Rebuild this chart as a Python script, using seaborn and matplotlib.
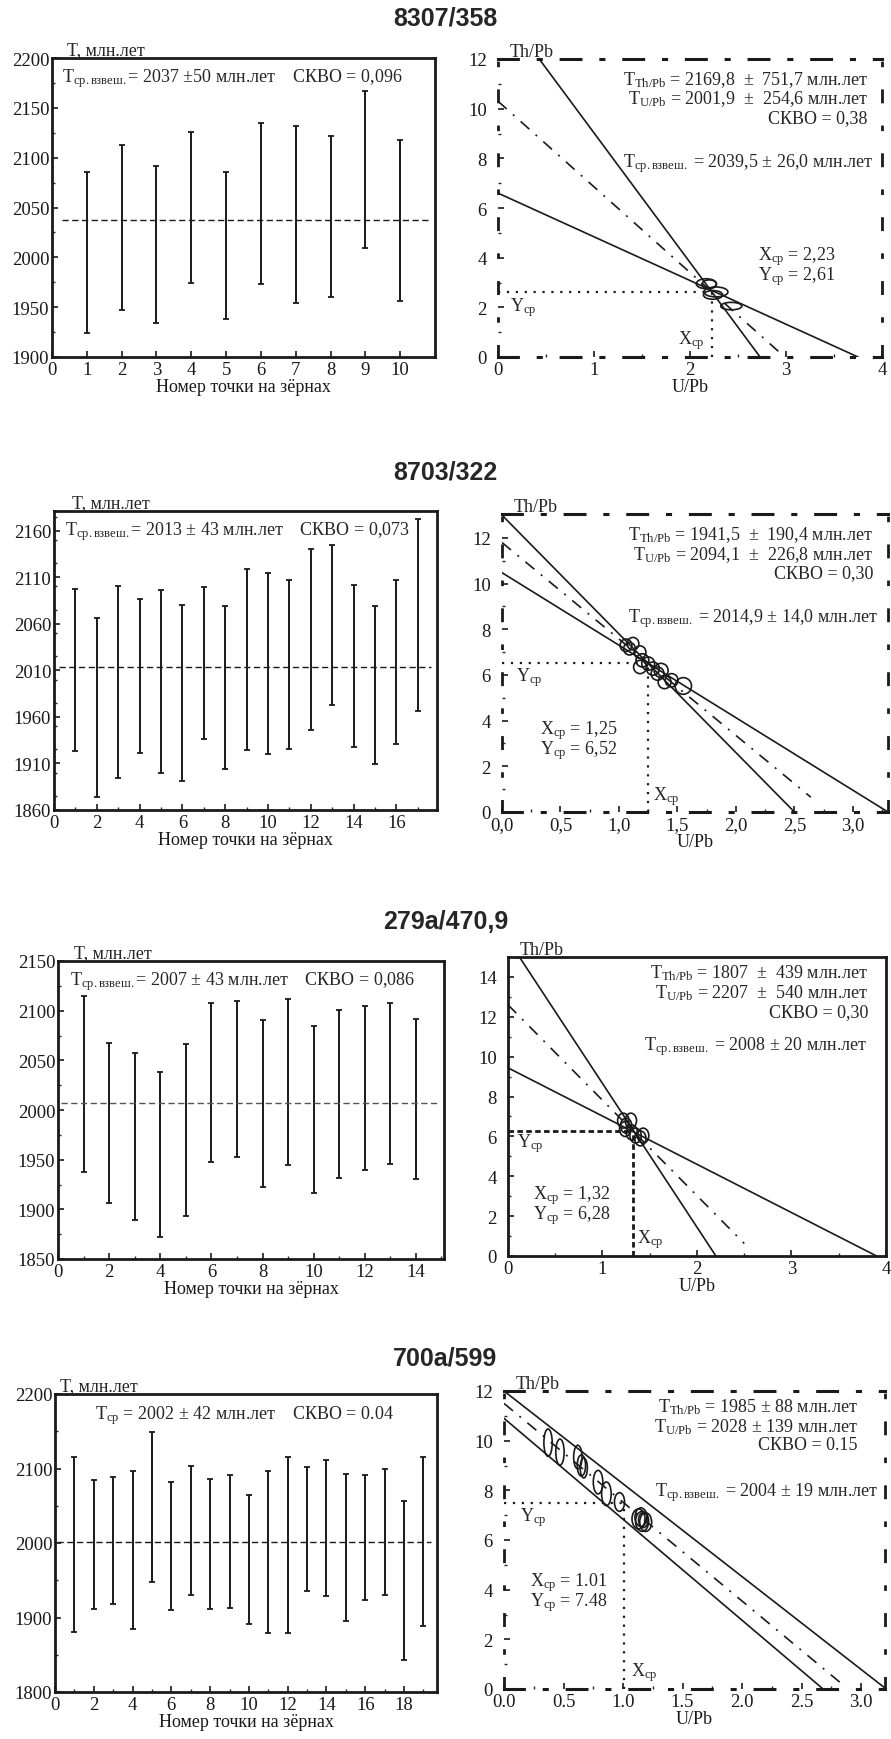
import matplotlib
matplotlib.use('Agg')
import matplotlib.pyplot as plt
from matplotlib.patches import Ellipse
from matplotlib.ticker import MultipleLocator, FuncFormatter
import seaborn as sns

sns.set_theme(style='ticks')
plt.rcParams['font.family'] = ['Liberation Serif', 'DejaVu Serif']
plt.rcParams['mathtext.fontset'] = 'custom'
plt.rcParams['mathtext.rm'] = 'Liberation Serif'
plt.rcParams['mathtext.it'] = 'Liberation Serif:italic'
plt.rcParams['mathtext.bf'] = 'Liberation Serif:bold'

# --- данные ---
titles = ['8307/358', '8703/322', '279a/470,9', '700a/599']

# возрасты по точкам (нижняя и верхняя граница интервала)
p1_lo = [1924, 1947, 1934, 1974, 1938, 1973, 1954, 1960, 2009, 1956]
p1_hi = [2086, 2113, 2092, 2126, 2086, 2135, 2132, 2122, 2167, 2118]
p1_mean = 2037

p3_lo = [1923, 1874, 1894, 1921, 1900, 1891, 1936, 1904, 1924, 1920, 1925, 1946, 1973, 1928, 1909, 1931, 1966]
p3_hi = [2097, 2066, 2101, 2087, 2096, 2080, 2099, 2079, 2119, 2114, 2107, 2140, 2145, 2102, 2079, 2107, 2172]
p3_mean = 2013

p5_lo = [1938, 1906, 1889, 1872, 1893, 1948, 1953, 1922, 1945, 1916, 1932, 1940, 1946, 1931]
p5_hi = [2115, 2067, 2057, 2038, 2066, 2108, 2110, 2091, 2112, 2085, 2101, 2105, 2108, 2092]
p5_mean = 2007

p7_lo = [1881, 1912, 1918, 1885, 1947, 1910, 1930, 1911, 1913, 1891, 1879, 1879, 1935, 1929, 1895, 1923, 1930, 1843, 1888]
p7_hi = [2115, 2085, 2089, 2096, 2149, 2082, 2103, 2086, 2091, 2064, 2096, 2115, 2102, 2111, 2093, 2091, 2100, 2056, 2116]
p7_mean = 2002

left_texts = [
    r'T$_\mathrm{ср.взвеш.}$= 2037 ±50 млн.лет    СКВО = 0,096',
    r'T$_\mathrm{ср.взвеш.}$= 2013 ± 43 млн.лет    СКВО = 0,073',
    r'T$_\mathrm{ср.взвеш.}$= 2007 ± 43 млн.лет    СКВО = 0,086',
    r'T$_\mathrm{ср}$ = 2002 ± 42 млн.лет    СКВО = 0.04',
]

# изохроны: (пересечение с осью Y, пересечение с осью X)
p2_solid = [(14.24, 2.73), (6.6, 3.75)]
p4_solid = [(13.0, 2.5), (10.48, 3.3)]
p6_solid = [(15.87, 2.2), (9.44, 3.9)]
p8_solid = [(12.0, 3.21), (10.9, 2.68)]

# штрих-пунктир: начало на оси Y и конец по X
p2_dd = (10.3, 2.95)
p4_dd = (11.8, 2.64)
p6_dd = (12.6, 2.5)
p8_dd = (11.5, 2.85)

# средние точки
p2_mean = (2.23, 2.61)
p4_mean = (1.25, 6.52)
p6_mean = (1.32, 6.28)
p8_mean = (1.01, 7.48)

# эллипсы погрешностей
p2_ex = [2.17, 2.20, 2.27, 2.24, 2.43]
p2_ey = [2.95, 2.93, 2.62, 2.50, 2.05]
p2_ew = [0.21, 0.15, 0.25, 0.20, 0.22]
p2_eh = [0.40, 0.35, 0.40, 0.35, 0.30]

p4_ex = [1.06, 1.09, 1.12, 1.18, 1.20, 1.18, 1.25, 1.29, 1.36, 1.33, 1.39, 1.45, 1.55]
p4_ey = [7.30, 7.15, 7.37, 7.00, 6.64, 6.35, 6.50, 6.28, 6.20, 6.06, 5.69, 5.77, 5.52]
p4_ew = [0.10, 0.10, 0.10, 0.10, 0.11, 0.11, 0.11, 0.11, 0.12, 0.11, 0.11, 0.11, 0.14]
p4_eh = [0.55, 0.55, 0.55, 0.55, 0.58, 0.58, 0.58, 0.58, 0.62, 0.58, 0.58, 0.58, 0.73]

p6_ex = [1.22, 1.25, 1.30, 1.24, 1.31, 1.35, 1.40, 1.43]
p6_ey = [6.79, 6.54, 6.79, 6.37, 6.20, 6.04, 5.90, 6.04]
p6_ew = [0.12, 0.12, 0.12, 0.12, 0.12, 0.12, 0.12, 0.12]
p6_eh = [0.75, 0.75, 0.75, 0.75, 0.75, 0.75, 0.75, 0.75]

p8_ex = [0.37, 0.47, 0.62, 0.65, 0.67, 0.79, 0.86, 0.97, 1.13, 1.16, 1.19, 1.15, 1.17]
p8_ey = [9.92, 9.54, 9.34, 9.00, 8.90, 8.33, 7.86, 7.53, 6.85, 6.75, 6.72, 6.92, 6.80]
p8_ew = [0.07, 0.07, 0.07, 0.07, 0.06, 0.08, 0.08, 0.085, 0.11, 0.11, 0.10, 0.10, 0.08]
p8_eh = [1.10, 1.05, 0.95, 0.85, 0.80, 0.95, 0.95, 0.75, 0.80, 0.80, 0.75, 0.75, 0.60]

right_texts = [
    [r'T$_\mathrm{Th/Pb}$ = 2169,8  ±  751,7 млн.лет', r'T$_\mathrm{U/Pb}$ = 2001,9  ±  254,6 млн.лет',
     'СКВО = 0,38', r'T$_\mathrm{ср.взвеш.}$ = 2039,5 ± 26,0 млн.лет', r'X$_\mathrm{ср}$ = 2,23', r'Y$_\mathrm{ср}$ = 2,61'],
    [r'T$_\mathrm{Th/Pb}$ = 1941,5  ±  190,4 млн.лет', r'T$_\mathrm{U/Pb}$ = 2094,1  ±  226,8 млн.лет',
     'СКВО = 0,30', r'T$_\mathrm{ср.взвеш.}$ = 2014,9 ± 14,0 млн.лет', r'X$_\mathrm{ср}$ = 1,25', r'Y$_\mathrm{ср}$ = 6,52'],
    [r'T$_\mathrm{Th/Pb}$ = 1807  ±  439 млн.лет', r'T$_\mathrm{U/Pb}$ = 2207  ±  540 млн.лет',
     'СКВО = 0,30', r'T$_\mathrm{ср.взвеш.}$ = 2008 ± 20 млн.лет', r'X$_\mathrm{ср}$ = 1,32', r'Y$_\mathrm{ср}$ = 6,28'],
    [r'T$_\mathrm{Th/Pb}$ = 1985 ± 88 млн.лет', r'T$_\mathrm{U/Pb}$ = 2028 ± 139 млн.лет',
     'СКВО = 0.15', r'T$_\mathrm{ср.взвеш.}$ = 2004 ± 19 млн.лет', r'X$_\mathrm{ср}$ = 1.01', r'Y$_\mathrm{ср}$ = 7.48'],
]

# --- раскладка (пиксели исходной картинки) ---
W, H = 891, 1740


def box(l, t, r, b):
    return [l / W, 1 - b / H, (r - l) / W, (b - t) / H]


fig = plt.figure(figsize=(W / 100, H / 100), dpi=100)
FS = 13
TFS = 13.5

title_y = [18, 472, 922, 1359]
for t, yy in zip(titles, title_y):
    fig.text(0.5, 1 - yy / H, t, ha='center', va='center', fontsize=18,
             fontweight='bold', family='Liberation Sans')


def dashdot_frame(ax):
    for s in ['top', 'bottom']:
        ax.spines[s].set_linewidth(2.2)
        ax.spines[s].set_linestyle((0, (6.5, 6.5, 1, 6.5)))
    for s in ['left', 'right']:
        ax.spines[s].set_linewidth(2.0)
        ax.spines[s].set_linestyle((0, (4, 9, 1, 9)))


def left_panel(rect, lo, hi, mean, ylim, ymaj, xlim, xmaj, xlast, text, tx, ty, lx, mean_color='k', x0=0.02):
    ax = fig.add_axes(rect)
    x = list(range(1, len(lo) + 1))
    mid = [(a + b) / 2 for a, b in zip(lo, hi)]
    half = [(b - a) / 2 for a, b in zip(lo, hi)]
    ax.errorbar(x, mid, yerr=half, fmt='none', ecolor='k', elinewidth=1.4, capsize=2.2, capthick=1.3)
    ax.axhline(mean, xmin=x0, xmax=0.985, color=mean_color, lw=1.0, ls=(0, (4.5, 2.5)))
    ax.set_xlim(*xlim)
    ax.set_ylim(*ylim)
    ax.set_yticks(list(range(ylim[0], int(ylim[1]) + 1, ymaj)))
    ax.yaxis.set_minor_locator(MultipleLocator(ymaj / 2))
    ax.set_xticks(list(range(0, xlast + 1, xmaj)))
    ax.xaxis.set_minor_locator(MultipleLocator(1))
    for s in ax.spines.values():
        s.set_linewidth(2.0)
        s.set_color('k')
    ax.tick_params(which='major', direction='in', length=4, width=1.2, labelsize=TFS, pad=2, colors='k')
    ax.tick_params(which='minor', direction='in', length=2.5, width=1.0)
    ax.tick_params(axis='x', pad=3)
    ax.set_xlabel('Номер точки на зёрнах', fontsize=FS, labelpad=0, color='k')
    ax.text(lx, 1.0, 'T, млн.лет', transform=ax.transAxes, fontsize=FS, ha='left', va='bottom')
    ax.text(tx, ty, text, transform=ax.transAxes, fontsize=FS, ha='left', va='center')
    return ax


def right_panel(rect, solids, dd, mean, ex, ey, ew, eh, xlim, ylim, xmaj, xfmt, ymax_tick, texts, pos,
                frame='dashdot', guide=(0, (1, 3)), guide_lw=1.6):
    ax = fig.add_axes(rect)
    for y0, x0 in solids:
        sns.lineplot(x=[0, x0], y=[y0, 0], ax=ax, color='k', lw=1.2)
    y0, xe = dd
    slope = (mean[1] - y0) / mean[0]
    ax.plot([0, xe], [y0, y0 + slope * xe], color='k', lw=1.2, ls=(0, (7, 5, 1.2, 5)))
    for cx, cy, w, h in zip(ex, ey, ew, eh):
        ax.add_patch(Ellipse((cx, cy), w, h, fill=False, ec='k', lw=1.2))
    ax.plot([0, mean[0]], [mean[1], mean[1]], color='k', lw=guide_lw, ls=guide)
    ax.plot([mean[0], mean[0]], [0, mean[1]], color='k', lw=guide_lw, ls=guide)
    ax.set_xlim(*xlim)
    ax.set_ylim(*ylim)
    ax.xaxis.set_major_locator(MultipleLocator(xmaj))
    ax.xaxis.set_minor_locator(MultipleLocator(xmaj / 2))
    ax.set_yticks(list(range(0, ymax_tick + 1, 2)))
    ax.yaxis.set_minor_locator(MultipleLocator(1))
    if xfmt is not None:
        ax.xaxis.set_major_formatter(FuncFormatter(xfmt))
    if frame == 'dashdot':
        dashdot_frame(ax)
    else:
        for s in ax.spines.values():
            s.set_linewidth(2.0)
    for s in ax.spines.values():
        s.set_color('k')
    ax.tick_params(which='major', direction='in', length=4, width=1.2, labelsize=TFS, pad=3, colors='k')
    ax.tick_params(which='minor', direction='in', length=2.5, width=1.0)
    ax.tick_params(axis='y', pad=8)
    ax.set_xlabel('U/Pb', fontsize=FS, labelpad=0, color='k')
    ax.set_ylabel('')
    ax.text(0.03, 0.995, 'Th/Pb', transform=ax.transAxes, fontsize=FS, ha='left', va='bottom')
    (rx, y1, y2, y3), (rx2, y4), (lx, y5, y6), (yx, yy), (xx, xy) = pos
    ax.text(rx, y1, texts[0], transform=ax.transAxes, fontsize=FS, ha='right', va='center')
    ax.text(rx, y2, texts[1], transform=ax.transAxes, fontsize=FS, ha='right', va='center')
    ax.text(rx, y3, texts[2], transform=ax.transAxes, fontsize=FS, ha='right', va='center')
    ax.text(rx2, y4, texts[3], transform=ax.transAxes, fontsize=FS, ha='right', va='center')
    ax.text(lx, y5, texts[4], transform=ax.transAxes, fontsize=FS, ha='left', va='center')
    ax.text(lx, y6, texts[5], transform=ax.transAxes, fontsize=FS, ha='left', va='center')
    ax.text(yx, yy, r'Y$_\mathrm{ср}$', transform=ax.transAxes, fontsize=FS, ha='left', va='center')
    ax.text(xx, xy, r'X$_\mathrm{ср}$', transform=ax.transAxes, fontsize=FS, ha='left', va='center')
    return ax


comma1 = lambda v, p: f'{v:.1f}'.replace('.', ',')
dot1 = lambda v, p: f'{v:.1f}'

# ряд 1
left_panel(box(52, 59, 435, 358), p1_lo, p1_hi, p1_mean, (1900, 2200), 50, (0, 11), 1, 10,
           left_texts[0], 0.026, 0.936, 0.04, x0=0.027)
right_panel(box(498, 60, 882, 358), p2_solid, p2_dd, p2_mean, p2_ex, p2_ey, p2_ew, p2_eh,
            (0, 4), (0, 12), 1, None, 12, right_texts[0],
            [(0.963, 0.933, 0.869, 0.805), (0.977, 0.654), (0.677, 0.339, 0.272), (0.03, 0.168), (0.47, 0.06)])

# ряд 2
left_panel(box(54, 512, 437, 811), p3_lo, p3_hi, p3_mean, (1860, 2181), 50, (0, 17.9), 2, 16,
           left_texts[1], 0.029, 0.933, 0.047, x0=0.012)
right_panel(box(502, 515, 888, 813), p4_solid, p4_dd, p4_mean, p4_ex, p4_ey, p4_ew, p4_eh,
            (0, 3.3), (0, 13.05), 0.5, comma1, 12, right_texts[1],
            [(0.961, 0.933, 0.866, 0.802), (0.974, 0.651), (0.098, 0.275, 0.208), (0.035, 0.456), (0.39, 0.054)])

# ряд 3
left_panel(box(58, 962, 444, 1260), p5_lo, p5_hi, p5_mean, (1850, 2150), 50, (0, 15.1), 2, 14,
           left_texts[2], 0.031, 0.936, 0.042, mean_color='#555555', x0=0.009)
right_panel(box(508, 958, 886, 1257), p6_solid, p6_dd, p6_mean, p6_ex, p6_ey, p6_ew, p6_eh,
            (0, 4), (0, 15), 1, None, 14, right_texts[2],
            [(0.953, 0.95, 0.883, 0.816), (0.95, 0.703), (0.065, 0.207, 0.14), (0.025, 0.381), (0.34, 0.057)],
            frame='solid', guide=(0, (2, 1.2)), guide_lw=2.0)

# ряд 4
left_panel(box(55, 1395, 437, 1693), p7_lo, p7_hi, p7_mean, (1800, 2200), 100, (0, 19.7), 2, 18,
           left_texts[3], 0.105, 0.93, 0.013, x0=0.006)
right_panel(box(504, 1392, 885, 1690), p8_solid, p8_dd, p8_mean, p8_ex, p8_ey, p8_ew, p8_eh,
            (0, 3.2), (0, 12), 0.5, dot1, 12, right_texts[3],
            [(0.929, 0.95, 0.883, 0.819), (0.982, 0.664), (0.068, 0.359, 0.292), (0.043, 0.58), (0.333, 0.06)])

fig.savefig('out.png', dpi=100)
